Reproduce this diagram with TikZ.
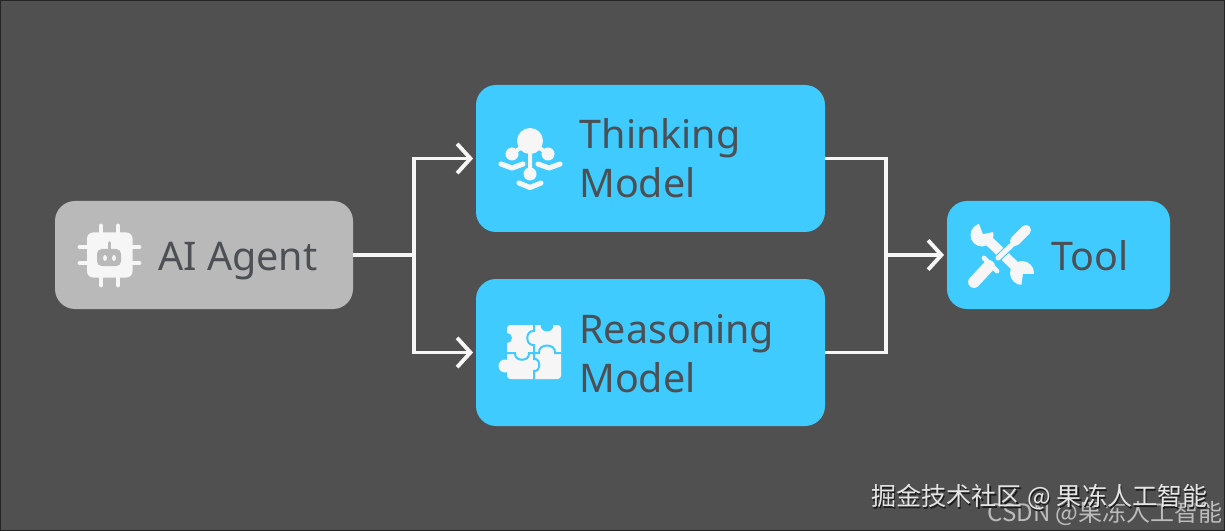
\documentclass[tikz,border=0pt]{standalone}
\usepackage{fontspec}
\setmainfont{Noto Sans}
\newfontfamily\cjkwm{Noto Sans CJK SC}
\usetikzlibrary{arrows.meta}
\definecolor{bgc}{HTML}{505050}
\definecolor{skyc}{HTML}{40CBFF}
\definecolor{grayc}{HTML}{B9B9B9}
\definecolor{inkc}{HTML}{4C5054}
\definecolor{iconc}{HTML}{F6F6F6}
\tikzset{
  flowbox/.style={rounded corners=15pt,inner sep=0pt,fill=skyc,draw=none},
  agentbox/.style={flowbox,fill=grayc},
  label/.style={anchor=base west,inner sep=0pt,text=inkc,font=\fontsize{29.6}{36}\selectfont},
  wire/.style={draw=iconc,line width=2.9pt},
  arrowwire/.style={wire,-{Straight Barb[length=10pt,width=22pt,line width=2.9pt]},shorten >=2pt},
  ico/.style={draw=iconc,line cap=round,line join=round},
  icofill/.style={fill=iconc},
}
\begin{document}
\begin{tikzpicture}[x=0.75pt,y=-0.75pt]
\useasboundingbox (0,0) rectangle (1225,531);
\fill[black!55!bgc] (0,0) rectangle (1225,531);
\fill[bgc] (1,1) rectangle (1224,529.5);

\node[agentbox,minimum width=223.5pt,minimum height=81pt] (agent) at (204,255) {};
\node[flowbox,minimum width=261.75pt,minimum height=110.25pt] (think) at (650.5,158.5) {};
\node[flowbox,minimum width=261.75pt,minimum height=110.25pt] (reason) at (650.5,352.5) {};
\node[flowbox,minimum width=167.25pt,minimum height=81pt] (tool) at (1058.5,255) {};

\node[label] (agenttext) at (158,271) {AI Agent};
\node[label] (thinktext1) at (579.5,149) {Thinking};
\node[label] (thinktext2) at (579,198) {Model};
\node[label] (reasontext1) at (579,343) {Reasoning};
\node[label] (reasontext2) at (579,392) {Model};
\node[label] (tooltext) at (1051,271) {Tool};

\coordinate (jl) at (414,255);
\coordinate (jr) at (886,255);
\draw[wire] (agent.east) -- (jl);
\draw[arrowwire] (jl) |- (think.west);
\draw[arrowwire] (jl) |- (reason.west);
\draw[wire] (think.east) -| (jr);
\draw[wire] (reason.east) -| (jr);
\draw[arrowwire] (jr) -- (tool.west);

% chip icon
\draw[ico,line width=3.6pt] (101,226)--(101,285) (118,226)--(118,285) (80,247)--(139,247) (80,263)--(139,263);
\fill[icofill,rounded corners=4.5pt] (87,232.5) rectangle (132.5,277.5);
\fill[grayc,rounded corners=3.5pt] (97,249) rectangle (121,266);
\draw[grayc,line width=2.8pt,line cap=round] (109.5,243)--(109.5,250);
\fill[icofill] (105,258) ellipse (1.9 and 3) (114,258) ellipse (1.9 and 3);

% thinking icon
\fill[icofill] (530,141) circle (13);
\fill[icofill] (512,154) circle (6.5) (548,154) circle (6.5) (530,174) circle (6.5);
\draw[ico,line width=3pt] (530,141)--(530,174) (512,154)--(530,141)--(548,154);
\draw[ico,line width=3.8pt] (501,164)--(512,168)--(523,164) (538,164)--(549,168)--(560,164) (519,183)--(530,187.5)--(541,183);

% puzzle icon
\fill[icofill,rounded corners=2.5pt] (507,325) rectangle (561,379);
\fill[icofill] (505,366) circle (6.5);
\fill[skyc] (507,338) circle (5) (547,325) circle (6.5);
\draw[skyc,line width=1.5pt]
  (534,325) -- (534,331) .. controls (525,330) and (525,346) .. (534,345) -- (534,353)
  (507,353) -- (515,353) .. controls (514,362) and (530,362) .. (529,353) -- (534,353)
  (534,353) -- (539,353) .. controls (538,343) and (556,343) .. (555,353) -- (561,353)
  (534,353) -- (534,359) .. controls (541,358) and (541,372) .. (534,371) -- (534,379);

% tool icon
\draw[ico,line width=7.4pt] (986,238)--(1018,269);
\fill[icofill] (982,235) circle (11.5) (1022,273) circle (12);
\fill[skyc] (983,234) -- (978,221) -- (998,221) -- (998,231) -- cycle;
\fill[skyc] (1023,274) -- (1037,274) -- (1037,288) -- (1021,288) -- cycle;
\draw[skyc,line width=5.4pt] (1014,243)--(995,261);
\draw[ico,line width=3.8pt] (1014,243)--(998,258);
\draw[ico,line width=7.6pt] (1026,230)--(1015,241);
\draw[ico,line width=8.8pt] (974,282)--(989,266);
\draw[ico,line width=3.6pt] (984,258)--(997,271);

% watermarks
\node[anchor=center,inner sep=0pt,text=white!62!bgc,font=\cjkwm\fontsize{18}{20}\selectfont] (wm2) at (1105,513) {CSDN @果冻人工智能};
\node[anchor=center,inner sep=0pt,text=black!65!bgc,font=\cjkwm\fontsize{18.8}{20}\selectfont] (wm1s) at (1040.6,498.6) {掘金技术社区 @ 果冻人工智能};
\node[anchor=center,inner sep=0pt,text=white!85!bgc,font=\cjkwm\fontsize{18.8}{20}\selectfont] (wm1) at (1039.5,497.5) {掘金技术社区 @ 果冻人工智能};
\end{tikzpicture}
\end{document}
